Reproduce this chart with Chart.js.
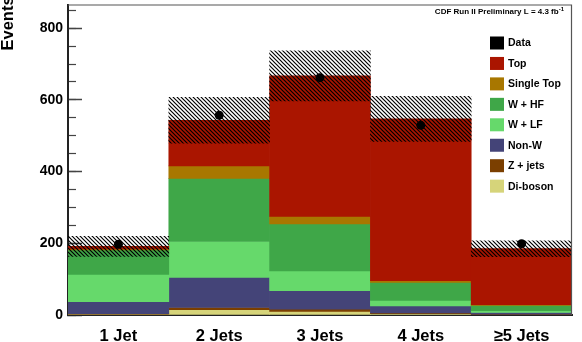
<!DOCTYPE html>
<html><head><meta charset="utf-8">
<script src="https://cdn.jsdelivr.net/npm/chart.js@4.4.1/dist/chart.umd.min.js"></script>
<style>html,body{margin:0;padding:0;background:#fff}#wrap{width:582px;height:342px}</style>
</head><body><div id="wrap"><canvas id="c" width="582" height="342"></canvas></div>
<script>
// ---- data ----
const categories = ['1 Jet', '2 Jets', '3 Jets', '4 Jets', '\u22655 Jets'];
const diboson    = [2, 15, 10, 4, 1];
const zJets      = [1.5, 6, 6, 2, 1];
const nonW       = [34, 84, 52, 19, 5];
const wLF        = [76, 100, 55, 16, 5];
const wHF        = [68, 176, 131, 50, 15];
const singleTop  = [3, 35, 21, 5, 2];
const topQuark   = [7, 127, 392, 451, 156];
const uncertainty= [28, 64, 70, 63, 22];
const dataCounts = [197, 557, 662, 529, 199];
const yMax = 866;
const yMajorStep = 200;
const yMinorStep = 50;
const yTitle = 'Events';
const annotation = 'CDF Run II Preliminary L = 4.3 fb';
const annotationSup = '-1';

// ---- components, bottom to top ----
const components = [
  {label: 'Di-boson',   values: diboson,   color: '#D6D47A'},
  {label: 'Z + jets',   values: zJets,     color: '#7B3F00'},
  {label: 'Non-W',      values: nonW,      color: '#444478'},
  {label: 'W + LF',     values: wLF,       color: '#66D96B'},
  {label: 'W + HF',     values: wHF,       color: '#3FA748'},
  {label: 'Single Top', values: singleTop, color: '#A87700'},
  {label: 'Top',        values: topQuark,  color: '#AA1500'}
];

const ctx = document.getElementById('c').getContext('2d');

function makeHatch() {
  const c = document.createElement('canvas');
  c.width = 4; c.height = 4;
  const g = c.getContext('2d');
  g.strokeStyle = '#000';
  g.lineWidth = 1.2;
  g.beginPath();
  g.moveTo(-1, -1); g.lineTo(5, 5);
  g.moveTo(-1, 3); g.lineTo(1, 5);
  g.moveTo(3, -1); g.lineTo(5, 1);
  g.stroke();
  return ctx.createPattern(c, 'repeat');
}

const cum = categories.map(() => 0);
const barSets = components.map((comp, k) => ({
  type: 'bar',
  label: comp.label,
  data: comp.values.map((v, i) => { const lo = cum[i]; cum[i] += v; return [lo, cum[i]]; }),
  backgroundColor: comp.color,
  borderWidth: 0,
  grouped: false,
  barPercentage: 1,
  categoryPercentage: 1,
  order: 10 - k
}));
const totals = cum.slice();
const hatchSet = {
  type: 'bar',
  label: 'Uncertainty',
  data: totals.map((t, i) => [t - uncertainty[i], t + uncertainty[i]]),
  backgroundColor: makeHatch(),
  borderWidth: 0,
  grouped: false,
  barPercentage: 1,
  categoryPercentage: 1,
  order: 1
};
const dataSet = {
  type: 'line',
  label: 'Data',
  data: dataCounts,
  showLine: false,
  pointRadius: 4.5,
  pointBackgroundColor: '#000',
  pointBorderWidth: 0,
  order: 0
};

const legendEntries = [{label: 'Data', color: '#000'}].concat(components.slice().reverse());

const decorPlugin = {
  id: 'decor',
  afterDraw(chart) {
    const g = chart.ctx;
    const a = chart.chartArea;
    g.save();
    // frame: top and right
    g.strokeStyle = '#555';
    g.lineWidth = 1.2;
    g.beginPath();
    g.moveTo(a.left, a.top + 0.5); g.lineTo(a.right - 0.5, a.top + 0.5); g.lineTo(a.right - 0.5, a.bottom);
    g.stroke();
    // y axis title
    g.save();
    g.fillStyle = '#000';
    g.font = 'bold 16.5px "Liberation Sans", Arial, sans-serif';
    g.textAlign = 'left';
    g.textBaseline = 'alphabetic';
    g.translate(12.5, 50.5);
    g.rotate(-Math.PI / 2);
    g.fillText(yTitle, 0, 0);
    g.restore();
    // annotation
    g.fillStyle = '#000';
    g.font = 'bold 8px "Liberation Sans", Arial, sans-serif';
    g.textBaseline = 'middle';
    g.textAlign = 'left';
    const w = g.measureText(annotation).width;
    g.font = 'bold 6px "Liberation Sans", Arial, sans-serif';
    const ws = g.measureText(annotationSup).width;
    const x0 = 564 - w - ws;
    g.font = 'bold 8px "Liberation Sans", Arial, sans-serif';
    g.fillText(annotation, x0, 12);
    g.font = 'bold 6px "Liberation Sans", Arial, sans-serif';
    g.fillText(annotationSup, x0 + w, 9);
    // legend
    g.font = 'bold 10.5px "Liberation Sans", Arial, sans-serif';
    legendEntries.forEach((e, i) => {
      const cy = 43 + i * 20.45;
      g.fillStyle = e.color;
      g.fillRect(490, cy - 6.5, 14, 13);
      g.fillStyle = '#000';
      g.fillText(e.label, 508, cy + 0.5);
    });
    g.restore();
  }
};

function noVPad(s) { s.paddingTop = 0; s.paddingBottom = 0; }

new Chart(ctx, {
  data: {labels: categories, datasets: [dataSet, hatchSet].concat(barSets)},
  options: {
    responsive: false,
    animation: false,
    layout: {padding: {top: 1, right: 10, left: 0, bottom: 0}},
    plugins: {legend: {display: false}, tooltip: {enabled: false}},
    scales: {
      x: {
        type: 'category',
        offset: true,
        grid: {display: false, drawTicks: false},
        border: {display: true, color: '#222', width: 2},
        ticks: {
          color: '#000', padding: 12, maxRotation: 0, autoSkip: false,
          font: {family: '"Liberation Sans", Arial, sans-serif', weight: 'bold', size: 16.5}
        },
        afterFit(s) { s.height = 27; s.paddingLeft = 0; s.paddingRight = 0; }
      },
      y: {
        type: 'linear', position: 'left', min: 0, max: yMax, weight: 1,
        grid: {drawOnChartArea: false, drawTicks: true, tickLength: -14, tickWidth: 1.5, tickColor: '#444'},
        border: {display: true, color: '#222', width: 2},
        ticks: {
          stepSize: yMajorStep, includeBounds: false, color: '#000', padding: 19,
          font: {family: '"Liberation Sans", Arial, sans-serif', weight: 'bold', size: 14}
        },
        afterFit(s) { s.width = 68; noVPad(s); }
      },
      yMinor: {
        type: 'linear', position: 'left', min: 0, max: yMax, weight: 0,
        grid: {drawOnChartArea: false, drawTicks: true, tickLength: -8, tickWidth: 1.2, tickColor: '#444'},
        border: {display: false},
        ticks: {stepSize: yMinorStep, includeBounds: false, display: false},
        afterFit(s) { s.width = 0; noVPad(s); }
      }
    }
  },
  plugins: [decorPlugin]
});
</script>
</body></html>
